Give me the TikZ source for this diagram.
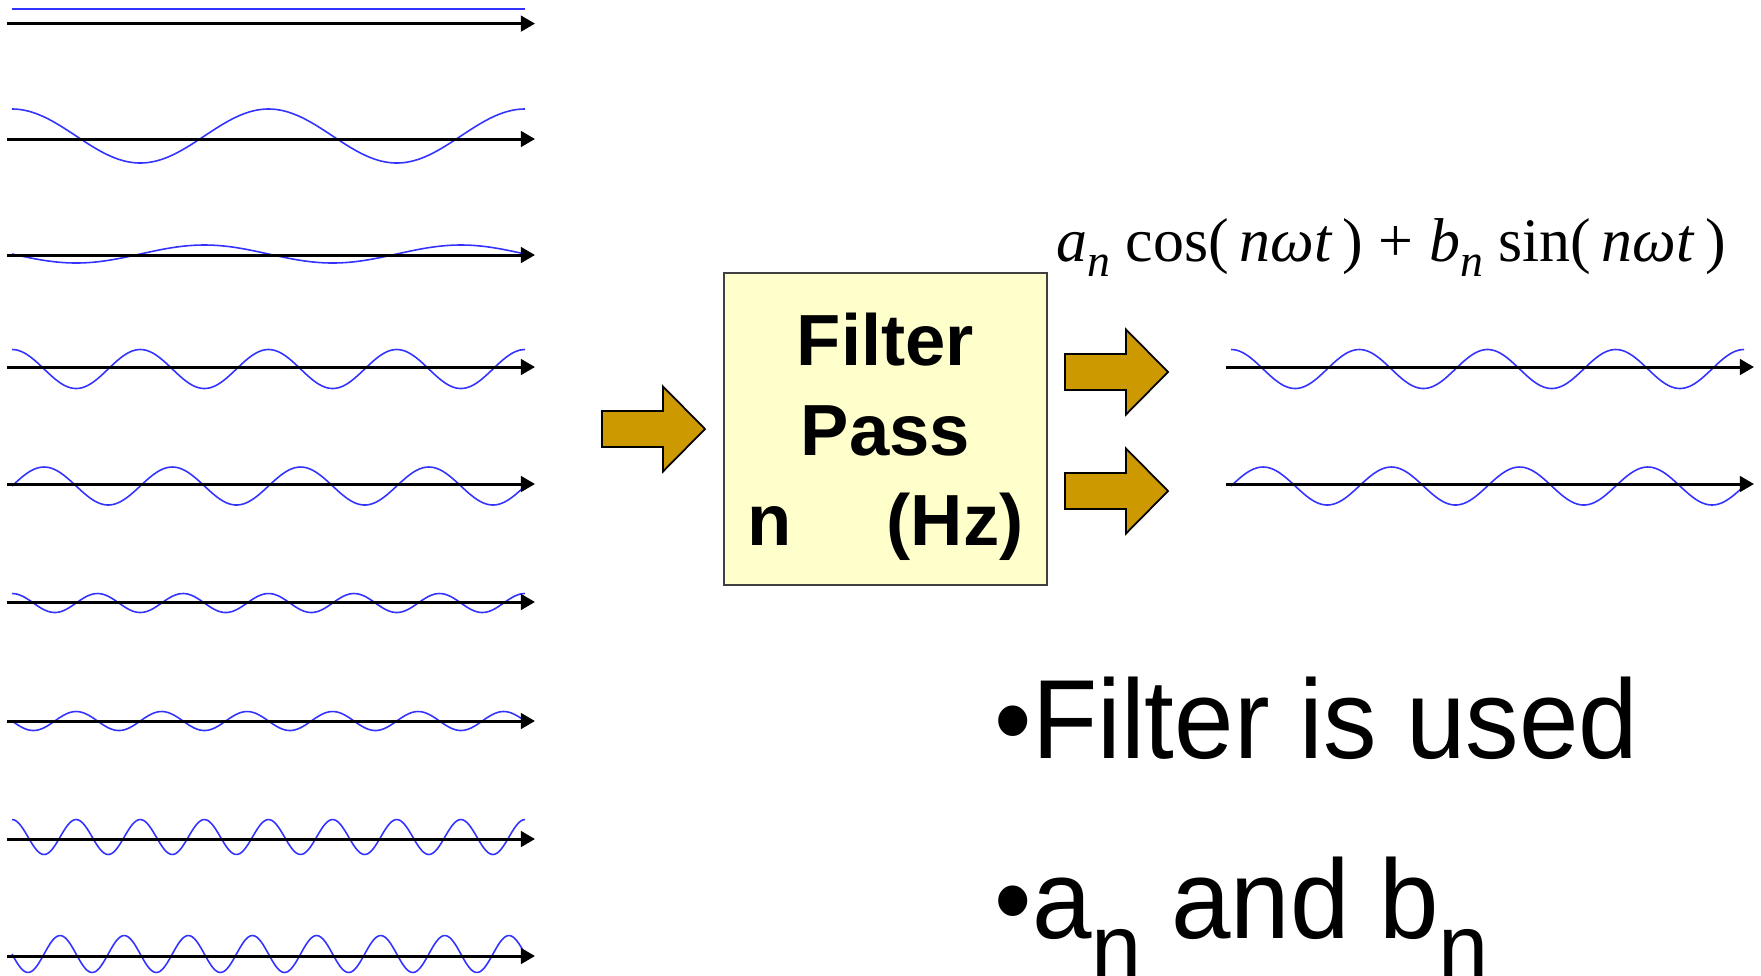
\documentclass[tikz,border=0pt]{standalone}
\usepackage{fontspec}
\setmainfont{Liberation Sans}
\newfontfamily\formulafont{Liberation Serif}
\newfontfamily\bulletfont[FakeStretch=0.95]{Liberation Sans}
\usetikzlibrary{arrows.meta,positioning}
\definecolor{wavecolor}{RGB}{51,51,255}
\definecolor{arrowgold}{RGB}{204,153,0}
\definecolor{filterfill}{RGB}{255,255,204}
\newcommand{\formsub}[1]{\raisebox{-0.25em}{\fontsize{13}{14}\selectfont\itshape #1}}
\newcommand{\bulletsub}[1]{\raisebox{-0.38em}{\fontsize{27}{30}\selectfont #1}}
\tikzset{
  timeaxis/.style={line width=0.85pt, -{Triangle[length=4pt,width=4.4pt]}},
  harmonic/.style={wavecolor, line width=0.45pt, samples=240},
  arrowbody/.style={fill=arrowgold, draw=black, line width=0.5pt},
  pics/blockarrow/.style={code={
    \draw[arrowbody] (0,-18) -- (61,-18) -- (61,-42.5) -- (103,0) -- (61,42.5) -- (61,18) -- (0,18) -- cycle;
  }},
}

\begin{document}
\begin{tikzpicture}[x=0.01cm, y=-0.01cm]
  \useasboundingbox (0,0) rectangle (1761,975);
  % harmonics on the left
  \draw[harmonic] (12,9) -- (525,9);
  \draw[timeaxis] (7,23.6) -- (535,23.6);
  \foreach \ya/\yw/\amp/\k/\ph in {139/136/27/2/0, 255/254/9/2/90, 367/369/19.5/4/0, 484/486/19/4/-90,
                                    602/603/9.5/6/0, 721/721/9.5/6/90, 839/837/17.5/8/0, 956/954/18.5/8/90}{
    \draw[harmonic] plot[domain=12:525] (\x, {\yw - \amp*cos(360*\k*((\x-12)/513) + \ph)});
    \draw[timeaxis] (7,\ya) -- (535,\ya);
  }
  % filter block
  \pic (inarrow) at (602,429) {blockarrow};
  \node[draw=black!75, line width=0.6pt, fill=filterfill, minimum width=3.23cm, minimum height=3.12cm,
        inner sep=0pt] (filter) at (885.5,429) {};
  \node[align=center, inner sep=0pt, font=\fontsize{20.6}{25.6}\selectfont\bfseries]
        (filtertext) at ([yshift=-0.08cm]filter.center) {Filter\\Pass\\n\hspace{0.95cm}(Hz)};
  \pic (cosarrow) at (1065,372) {blockarrow};
  \pic (sinarrow) at (1065,491) {blockarrow};
  % filtered harmonics
  \foreach \ya/\yw/\amp/\ph in {367/369/19.5/0, 484/486/19/-90}{
    \draw[harmonic] plot[domain=1231:1744] (\x, {\yw - \amp*cos(360*4*((\x-1231)/513) + \ph)});
    \draw[timeaxis] (1226,\ya) -- (1754,\ya);
  }
  \node[anchor=base west, inner sep=0pt, font=\formulafont\fontsize{17.6}{20}\selectfont]
        (formula) at (1056,261)
        {\textit{a}\formsub{n} cos(\,\textit{nωt}\,) + \textit{b}\formsub{n} sin(\,\textit{nωt}\,)};
  % notes
  \node[anchor=base west, inner sep=0pt, font=\bulletfont\fontsize{32}{36}\selectfont]
        (usedline) at (994,758) {•Filter is used};
  \node[anchor=base west, inner sep=0pt, font=\bulletfont\fontsize{32}{36}\selectfont]
        (coefline) at (994,938) {•a\bulletsub{n} and b\bulletsub{n}};
\end{tikzpicture}
\end{document}
